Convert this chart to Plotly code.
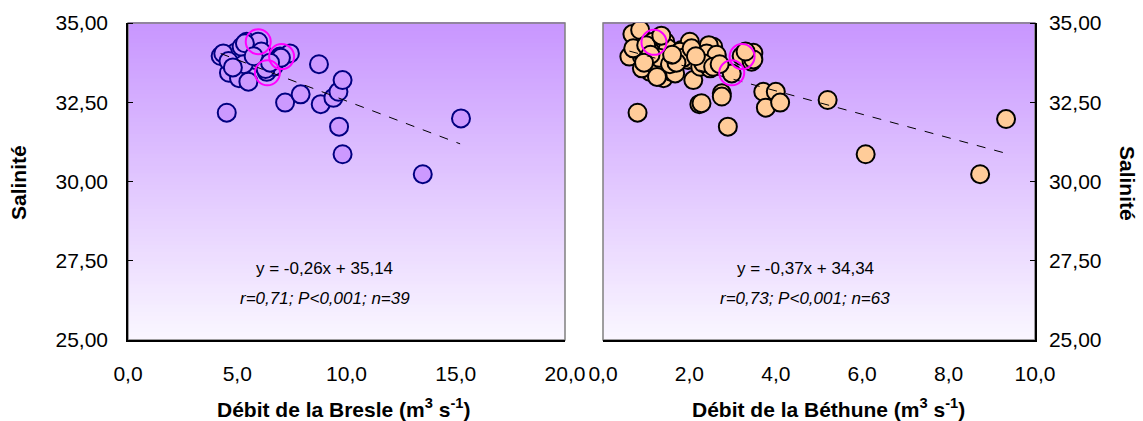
import plotly.graph_objects as go

# ---------------- data ----------------
bresle_x = [4.24, 4.52, 4.62, 5.13, 5.08, 5.51, 4.74, 4.90, 5.43, 5.58, 5.96, 6.19, 6.35,
            6.96, 7.41, 7.19, 7.90, 8.74, 8.82, 9.40, 9.63, 9.82, 9.66, 9.82, 13.49, 15.24,
            4.36, 5.20, 5.81, 6.65, 5.35, 6.30, 4.60, 5.30, 6.10, 7.00, 5.75, 4.80, 6.50]
bresle_y = [33.96, 32.17, 33.43, 33.49, 33.26, 33.15, 33.99, 34.06, 34.41, 34.15, 34.41, 33.67, 33.46,
            33.94, 34.04, 32.49, 32.75, 33.70, 32.44, 32.64, 32.83, 33.20, 31.73, 30.86, 30.23, 31.99,
            34.04, 34.25, 33.83, 33.62, 34.36, 33.55, 33.80, 33.70, 34.10, 33.90, 33.95, 33.60, 33.75]
bresle_hl_x = [5.96, 7.03, 6.38]
bresle_hl_y = [34.41, 33.94, 33.43]
bresle_slope, bresle_intercept = -0.26, 35.14
bresle_trend_x = [4.24, 15.2]

bethune_x = [0.68, 0.86, 1.16, 0.61, 0.90, 0.82, 1.44, 1.50, 1.09, 0.90, 1.40, 1.59, 0.80,
             1.82, 2.01, 1.97, 2.09, 2.25, 2.32, 2.55, 2.63, 2.48, 2.23, 2.75, 2.75, 2.89,
             2.98, 3.21, 3.48, 3.44, 3.71, 4.00, 3.77, 4.10, 5.20, 6.08, 9.33, 8.73, 1.20,
             1.67, 1.78, 2.28, 2.45, 2.40, 2.63, 2.32, 2.55, 3.48, 0.70, 1.00, 1.30, 1.25,
             1.55, 1.85, 2.05, 2.15, 1.70, 1.10, 0.95, 1.35, 2.70, 1.60, 3.30]
bethune_y = [34.65, 34.78, 34.41, 33.94, 33.94, 34.17, 34.41, 34.20, 33.46, 33.57, 33.26, 33.46, 32.17,
             34.15, 34.41, 33.83, 33.20, 33.62, 34.04, 34.25, 33.94, 33.57, 32.44, 32.78, 32.68, 31.73,
             33.41, 33.96, 34.06, 33.78, 32.83, 32.83, 32.33, 32.49, 32.57, 30.86, 31.97, 30.23, 33.68,
             33.41, 34.09, 32.47, 34.30, 34.04, 34.00, 33.73, 33.62, 33.85, 34.20, 34.30, 33.90, 33.30,
             33.70, 33.90, 34.20, 33.95, 33.75, 34.00, 33.75, 34.60, 33.70, 34.00, 34.10]
bethune_hl_x = [1.18, 3.22, 2.98]
bethune_hl_y = [34.39, 33.94, 33.43]
bethune_slope, bethune_intercept = -0.37, 34.34
bethune_trend_x = [0.61, 9.33]

x1_ticks = [0, 5, 10, 15, 20]
x2_ticks = [0, 2, 4, 6, 8, 10]
y_ticks = [25, 27.5, 30, 32.5, 35]

# ---------------- figure ----------------
FONT = "Liberation Sans, Arial, sans-serif"
FS_TICK = 21
FS_ANN = 17
FS_TITLE = 21
fig = go.Figure()

def trend(xs, a, b):
    return [a * v + b for v in xs]

# left panel
fig.add_trace(go.Scatter(x=bresle_x, y=bresle_y, mode="markers", xaxis="x", yaxis="y",
                         marker=dict(size=18, color="#CC99FF", line=dict(color="#000080", width=2)),
                         showlegend=False))
fig.add_trace(go.Scatter(x=bresle_trend_x, y=trend(bresle_trend_x, bresle_slope, bresle_intercept),
                         mode="lines", xaxis="x", yaxis="y",
                         line=dict(color="black", width=1, dash="dash"), showlegend=False))
fig.add_trace(go.Scatter(x=bresle_hl_x, y=bresle_hl_y, mode="markers", xaxis="x", yaxis="y",
                         marker=dict(size=25, color="rgba(0,0,0,0)", line=dict(color="#FF00FF", width=2)),
                         showlegend=False))
# right panel
fig.add_trace(go.Scatter(x=bethune_x, y=bethune_y, mode="markers", xaxis="x2", yaxis="y2",
                         marker=dict(size=18, color="#FFCC99", line=dict(color="black", width=2)),
                         showlegend=False))
fig.add_trace(go.Scatter(x=bethune_trend_x, y=trend(bethune_trend_x, bethune_slope, bethune_intercept),
                         mode="lines", xaxis="x2", yaxis="y2",
                         line=dict(color="black", width=1, dash="dash"), showlegend=False))
fig.add_trace(go.Scatter(x=bethune_hl_x, y=bethune_hl_y, mode="markers", xaxis="x2", yaxis="y2",
                         marker=dict(size=25, color="rgba(0,0,0,0)", line=dict(color="#FF00FF", width=2)),
                         showlegend=False))

# gradient background strips
shapes = []
N = 80
top = (200, 150, 255)
bot = (250, 247, 255)
for ax in ["x", "x2"]:
    yref = "y" if ax == "x" else "y2"
    for i in range(N):
        t = (i + 0.5) / N
        c = tuple(round(bot[k] + (top[k] - bot[k]) * t) for k in range(3))
        shapes.append(dict(type="rect", xref=f"{ax} domain", yref=f"{yref} domain",
                           x0=0, x1=1, y0=i / N, y1=(i + 1) / N + 0.003,
                           fillcolor=f"rgb{c}", line=dict(width=0), layer="below"))
    shapes.append(dict(type="rect", xref=f"{ax} domain", yref=f"{yref} domain",
                       x0=0, x1=1, y0=0, y1=1, line=dict(color="#808080", width=1.5),
                       layer="below"))

W, H = 1143, 421
xd1 = [128 / W, 565 / W]
xd2 = [603 / W, 1035 / W]
yd = [1 - 340 / H, 1 - 23 / H]

axis_common = dict(showgrid=False, zeroline=False, showline=True, linecolor="black", linewidth=1.5,
                   automargin=False, tickfont=dict(family=FONT, size=FS_TICK, color="black"))
minor_in = dict(ticks="inside", tickvals=y_ticks, ticklen=5, tickcolor="black", tickwidth=1,
                showgrid=False)

ann_font = dict(family=FONT, size=FS_ANN, color="black")
title_font = dict(family=FONT, size=FS_TITLE, color="black")

def ann(text, x, y, xref, yref, angle=0, font=ann_font):
    return dict(text=text, x=x, y=y, xref=xref, yref=yref, showarrow=False, textangle=angle,
                xanchor="center", yanchor="middle", font=font)

fig.update_layout(
    width=W, height=H, margin=dict(l=0, r=0, t=0, b=0, autoexpand=False),
    paper_bgcolor="white", plot_bgcolor="rgba(0,0,0,0)",
    separators=",.",
    shapes=shapes,
    xaxis=dict(domain=xd1, range=[0, 20], tickvals=x1_ticks, tickformat=".1f", anchor="y",
               ticks="", ticklabelstandoff=14, **axis_common),
    yaxis=dict(domain=yd, range=[25, 35], tickvals=y_ticks, tickformat=".2f", anchor="x",
               ticks="outside", ticklen=14, tickcolor="rgba(0,0,0,0)", minor=minor_in,
               **axis_common),
    xaxis2=dict(domain=xd2, range=[0, 10], tickvals=x2_ticks, tickformat=".1f", anchor="y2",
                ticks="", ticklabelstandoff=14, **axis_common),
    yaxis2=dict(domain=yd, range=[25, 35], tickvals=y_ticks, tickformat=".2f", anchor="x2",
                side="right", ticks="outside", ticklen=8, tickcolor="rgba(0,0,0,0)", minor=minor_in,
                **axis_common),
    annotations=[
        ann("y = -0,26x + 35,14", 0.45, 0.225, "x domain", "y domain"),
        ann("<i>r=0,71; P<0,001; n=39</i>", 0.45, 0.130, "x domain", "y domain"),
        ann("y = -0,37x + 34,34", 0.468, 0.225, "x2 domain", "y2 domain"),
        ann("<i>r=0,73; P<0,001; n=63</i>", 0.468, 0.130, "x2 domain", "y2 domain"),
        ann("<b>Débit de la Bresle (m<sup>3</sup> s<sup>-1</sup>)</b>", 343 / W, 1 - 408 / H,
            "paper", "paper", font=title_font),
        ann("<b>Débit de la Béthune (m<sup>3</sup> s<sup>-1</sup>)</b>", 828 / W, 1 - 408 / H,
            "paper", "paper", font=title_font),
        ann("<b>Salinité</b>", 18 / W, 1 - 183 / H, "paper", "paper", angle=-90, font=title_font),
        ann("<b>Salinité</b>", 1128 / W, 1 - 183 / H, "paper", "paper", angle=90, font=title_font),
    ],
)

fig.write_html("out.html")
